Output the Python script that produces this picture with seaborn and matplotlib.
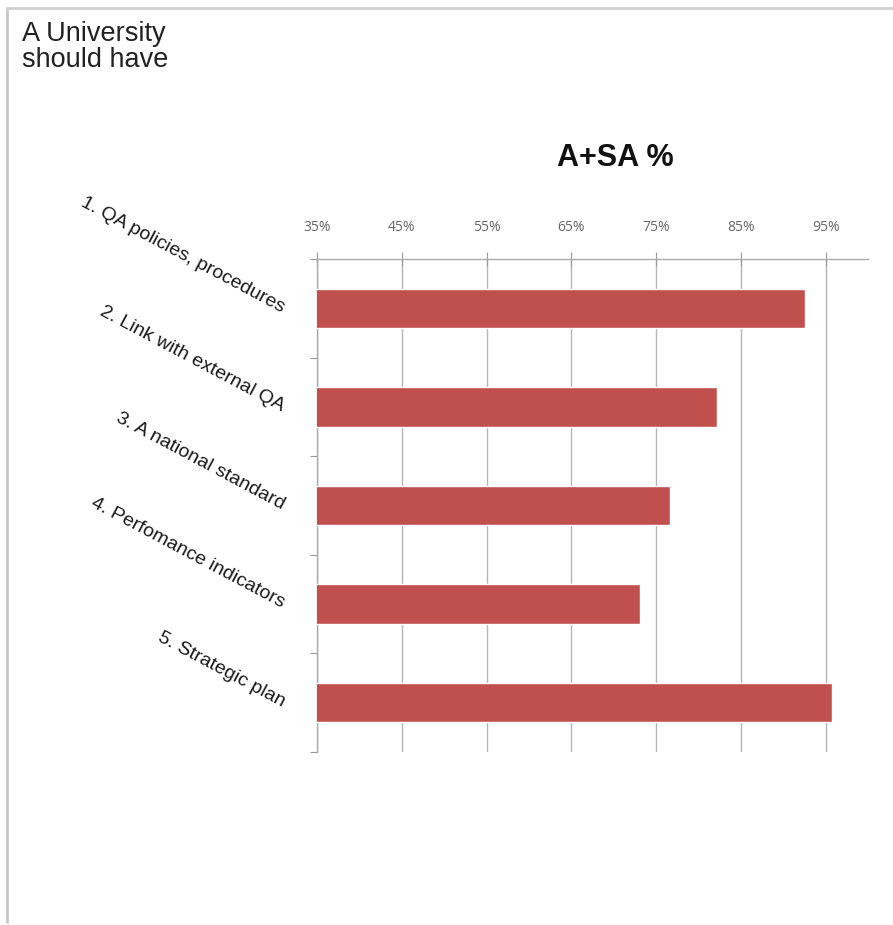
import matplotlib
matplotlib.use("Agg")
import matplotlib.pyplot as plt
import seaborn as sns
import pandas as pd
from matplotlib.ticker import FuncFormatter, FixedLocator
from matplotlib.lines import Line2D

categories = ["1. QA policies, procedures", "2. Link with external QA",
              "3. A national standard", "4. Perfomance indicators",
              "5. Strategic plan"]
values = [92.6, 82.2, 76.7, 73.1, 95.7]
x_ticks = [35, 45, 55, 65, 75, 85, 95]

sns.set_style("white")
plt.rcParams['font.family'] = ['Liberation Sans', 'DejaVu Sans']

df = pd.DataFrame({"cat": categories, "val": values})

fig = plt.figure(figsize=(8.93, 9.25), dpi=100)
ax = fig.add_axes([317/893, 1-752/925, (868-317)/893, (752-259)/925])

sns.barplot(data=df, x="val", y="cat", orient="h", color="#C0504D",
            width=0.4, saturation=1, ax=ax, zorder=3)

ax.set_xlim(35, 100)
ax.set_ylim(4.5, -0.5)
ax.xaxis.tick_top()
ax.xaxis.set_major_locator(FixedLocator(x_ticks))
ax.xaxis.set_major_formatter(FuncFormatter(lambda v, p: f"{v:.0f}%"))
ax.grid(axis="x", color="#b5b5b5", lw=1.0, zorder=0)
ax.set_axisbelow(True)
ax.tick_params(axis="x", which="major", direction="inout", length=10, width=0.8,
               color="#999999", pad=12, labelsize=10, labelcolor="#666666")
for t in ax.get_xticklabels():
    t.set_family(["Open Sans", "DejaVu Sans"])

# category ticks on boundaries
ax.set_yticks(range(len(categories)))
ax.set_yticklabels(categories)
ax.yaxis.set_minor_locator(FixedLocator([-0.5, 0.5, 1.5, 2.5, 3.5, 4.5]))
ax.tick_params(axis="y", which="major", length=0, pad=24, labelsize=14,
               labelcolor="#1a1a1a")
ax.tick_params(axis="y", which="minor", left=True, direction="out", length=5,
               width=0.8, color="#999999")
for t in ax.get_yticklabels():
    t.set_rotation(-28)
    t.set_rotation_mode("anchor")
    t.set_ha("right")
    t.set_va("center")

ax.set_xlabel("")
ax.set_ylabel("")
for s in ["right", "bottom"]:
    ax.spines[s].set_visible(False)
for s in ["left", "top"]:
    ax.spines[s].set_color("#aaaaaa")
    ax.spines[s].set_linewidth(1.0)

fig.text(615/893, 1-158/925, "A+SA %", ha="center", va="center",
         fontsize=22, fontweight="bold", color="#111111")
fig.text(22/893, 1-21/925, "A University\nshould have", ha="left", va="top",
         fontsize=19.5, color="#222222", linespacing=1.02)

# slide frame (left and top)
fig.add_artist(Line2D([7/893, 7/893], [1-8/925, 1-922/925], color="#c8c8c8",
                      lw=2, transform=fig.transFigure))
fig.add_artist(Line2D([7/893, 1.0], [1-8/925, 1-8/925], color="#d0d0d0",
                      lw=2, transform=fig.transFigure))

fig.savefig("out.png", dpi=100, facecolor="white")
